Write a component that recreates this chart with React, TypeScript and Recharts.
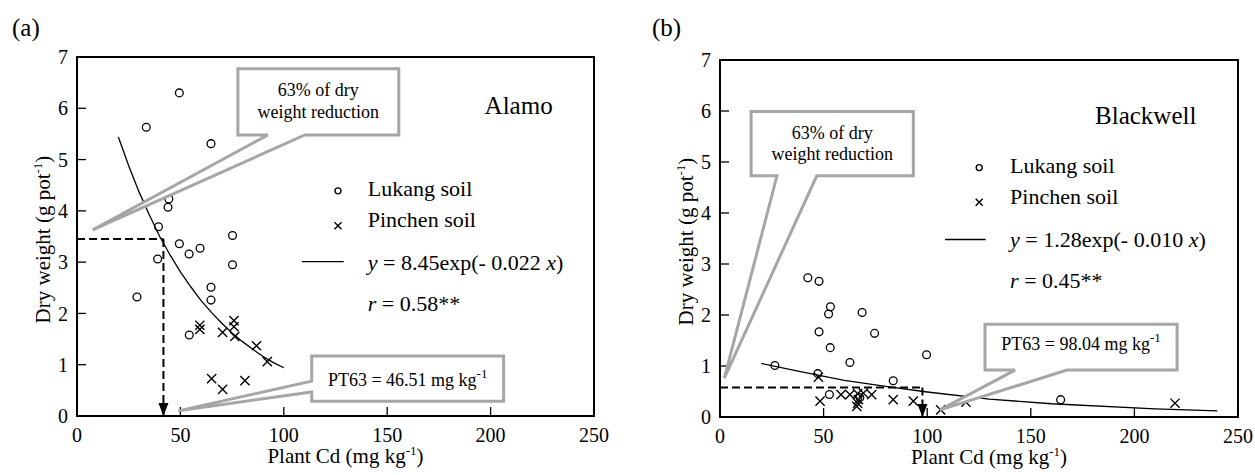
import React from 'react';
import { ScatterChart, Scatter, XAxis, YAxis, ReferenceLine, ReferenceDot, ReferenceArea } from 'recharts';

const SERIF = '"Liberation Serif", "Times New Roman", serif';
const GRAY = '#a6a6a6';

const xTicks = [0, 50, 100, 150, 200, 250];
const yTicks = [0, 1, 2, 3, 4, 5, 6, 7];

// (a) Alamo
const alamoLukangCd = [33.5, 49.5, 64.8, 44.4, 44.0, 39.4, 39.0, 29.0, 49.5, 54.2, 59.5, 75.2, 75.2, 64.8, 64.8, 54.3];
const alamoLukangDw = [5.63, 6.30, 5.31, 4.23, 4.07, 3.69, 3.06, 2.32, 3.36, 3.16, 3.27, 3.52, 2.95, 2.51, 2.26, 1.58];
const alamoPinchenCd = [59.4, 59.4, 70.4, 75.9, 75.9, 76.3, 86.8, 92.0, 65.1, 70.4, 81.2];
const alamoPinchenDw = [1.77, 1.69, 1.63, 1.86, 1.74, 1.55, 1.37, 1.06, 0.73, 0.52, 0.69];
const alamoFitCd = [20, 25, 30, 35, 40, 45, 50, 55, 60, 65, 70, 75, 80, 85, 90, 95, 100];
const alamoFitDw = [5.44, 4.88, 4.37, 3.92, 3.5, 3.14, 2.81, 2.52, 2.25, 2.02, 1.81, 1.62, 1.45, 1.3, 1.16, 1.04, 0.94];

// (b) Blackwell
const blackLukangCd = [26.5, 42.4, 47.8, 53.3, 52.4, 47.8, 53.2, 68.6, 74.6, 62.7, 99.7, 47.2, 83.6, 52.8, 67.5, 164.4];
const blackLukangDw = [1.01, 2.73, 2.66, 2.16, 2.02, 1.67, 1.36, 2.05, 1.64, 1.07, 1.22, 0.85, 0.71, 0.44, 0.38, 0.34];
const blackPinchenCd = [47.5, 48.3, 58.4, 62.7, 66.4, 69.2, 73.2, 66.8, 66.4, 66.0, 83.6, 93.3, 106.5, 118.7, 219.6];
const blackPinchenDw = [0.78, 0.31, 0.44, 0.44, 0.46, 0.47, 0.44, 0.34, 0.27, 0.21, 0.34, 0.31, 0.14, 0.29, 0.27];
const blackFitCd = [20, 40, 60, 80, 100, 130, 160, 210, 240];
const blackFitDw = [1.05, 0.88, 0.72, 0.6, 0.49, 0.35, 0.26, 0.16, 0.12];

const toPoints = (xs: number[], ys: number[]) => xs.map((x, i) => ({ x, y: ys[i] }));

const Ring = (p: any) => (
  <circle cx={p.cx} cy={p.cy} r={3.9} fill="none" stroke="#000" strokeWidth={1.3} />
);
const Cross = (p: any) => {
  const s = 4.6;
  return (
    <path
      d={`M${p.cx - s},${p.cy - s}L${p.cx + s},${p.cy + s}M${p.cx - s},${p.cy + s}L${p.cx + s},${p.cy - s}`}
      stroke="#000"
      strokeWidth={1.4}
      fill="none"
    />
  );
};
// inward tick marks
const UpTick = (p: any) => <path d={`M${p.cx},${p.cy - 1}L${p.cx},${p.cy - 9}`} stroke="#000" strokeWidth={1.3} fill="none" />;
const RightTick = (p: any) => <path d={`M${p.cx + 1},${p.cy}L${p.cx + 9},${p.cy}`} stroke="#000" strokeWidth={1.3} fill="none" />;
const NoDot = () => <g />;

// superscript "-1", optionally followed by text back on the baseline
const sup = (t: string, after?: string) => (
  <>
    <tspan dy={-8} fontSize={13}>{t}</tspan>
    {after ? <tspan dy={8}>{after}</tspan> : null}
  </>
);

// callout: box corners first (TL, TR, BR), then the wedge; text centred in the box
const callout = (lines: React.ReactNode[], dy: number[]) => (props: any) => {
  const pts = (props.points || []) as { x: number; y: number }[];
  if (pts.length < 3) return <g />;
  const d = pts.map((p, i) => `${i === 0 ? 'M' : 'L'}${p.x},${p.y}`).join(' ') + ' Z';
  const cx = (pts[0].x + pts[2].x) / 2;
  const cy = (pts[0].y + pts[2].y) / 2;
  return (
    <g>
      <path d={d} fill="#fff" stroke={GRAY} strokeWidth={3} />
      {lines.map((ln, i) => (
        <text key={i} x={cx} y={cy + dy[i]} textAnchor="middle" fontFamily={SERIF} fontSize={18} fill="#000">
          {ln}
        </text>
      ))}
    </g>
  );
};

const note = (key: string, x: number, y: number, content: React.ReactNode, size: number) => (
  <ReferenceDot
    key={key}
    x={x}
    y={y}
    r={0}
    shape={(d: any) => (
      <text x={d.cx} y={d.cy} fontFamily={SERIF} fontSize={size} fill="#000">
        {content}
      </text>
    )}
  />
);

const xLabel = (props: any) => {
  const vb = props.viewBox || {};
  return (
    <text x={vb.x + vb.width / 2 + 10} y={vb.y + 47} textAnchor="middle" fontFamily={SERIF} fontSize={21} fill="#000">
      Plant Cd (mg kg{sup('-1', ')')}
    </text>
  );
};

const yLabel = (props: any) => {
  const vb = props.viewBox || {};
  const x = vb.x + vb.width - 27;
  const y = vb.y + vb.height / 2 + 3;
  return (
    <text x={x} y={y} transform={`rotate(-90 ${x} ${y})`} textAnchor="middle" fontFamily={SERIF} fontSize={21} fill="#000">
      Dry weight (g pot{sup('-1', ')')}
    </text>
  );
};

interface PanelProps {
  width: number;
  margin: { top: number; right: number; bottom: number; left: number };
  lukang: { x: number; y: number }[];
  pinchen: { x: number; y: number }[];
  fit: { x: number; y: number }[];
  cutX: number;
  cutY: number;
  cultivar: string;
  cultivarAt: [number, number];
  legendMarkX: number;
  legendTextX: number;
  legendRows: number[];
  legendLine: [number, number, number];
  equation: React.ReactNode;
  rText: React.ReactNode;
  topNote: { x: number; y: number }[];
  topDy: number[];
  ptNote: { x: number; y: number }[];
  ptText: React.ReactNode;
  ptDy: number;
}

function DryWeightPanel(p: PanelProps) {
  return (
    <ScatterChart width={p.width} height={475} margin={p.margin}>
      <XAxis
        type="number"
        dataKey="x"
        domain={[0, 250]}
        ticks={xTicks}
        interval={0}
        height={40}
        tickSize={-8}
        tickMargin={20}
        axisLine={{ stroke: '#000', strokeWidth: 2 }}
        tickLine={false}
        tick={{ fill: '#000', fontSize: 20, fontFamily: SERIF }}
        label={xLabel}
      />
      <YAxis
        type="number"
        dataKey="y"
        domain={[0, 7]}
        ticks={yTicks}
        interval={0}
        width={45}
        tickSize={-8}
        tickMargin={17}
        axisLine={{ stroke: '#000', strokeWidth: 2 }}
        tickLine={false}
        tick={{ fill: '#000', fontSize: 20, fontFamily: SERIF }}
        label={yLabel}
      />
      <ReferenceArea x1={0} x2={250} y1={0} y2={7} fill="none" stroke="#000" strokeWidth={2} />

      <ReferenceDot x={50} y={0} r={0} shape={UpTick} />
      <ReferenceDot x={100} y={0} r={0} shape={UpTick} />
      <ReferenceDot x={150} y={0} r={0} shape={UpTick} />
      <ReferenceDot x={200} y={0} r={0} shape={UpTick} />
      <ReferenceDot x={0} y={1} r={0} shape={RightTick} />
      <ReferenceDot x={0} y={2} r={0} shape={RightTick} />
      <ReferenceDot x={0} y={3} r={0} shape={RightTick} />
      <ReferenceDot x={0} y={4} r={0} shape={RightTick} />
      <ReferenceDot x={0} y={5} r={0} shape={RightTick} />
      <ReferenceDot x={0} y={6} r={0} shape={RightTick} />

      <ReferenceLine
        segment={[{ x: 0, y: p.cutY }, { x: p.cutX, y: p.cutY }]}
        stroke="#000"
        strokeWidth={2}
        strokeDasharray="8 4"
      />
      <ReferenceLine
        segment={[{ x: p.cutX, y: p.cutY }, { x: p.cutX, y: 0 }]}
        stroke="#000"
        strokeWidth={2}
        strokeDasharray="8 4"
      />
      <ReferenceDot
        x={p.cutX}
        y={0}
        r={0}
        shape={(d: any) => <path d={`M${d.cx - 5},${d.cy - 13}L${d.cx + 5},${d.cy - 13}L${d.cx},${d.cy}Z`} fill="#000" />}
      />

      <Scatter data={p.fit} shape={NoDot} line={{ stroke: '#000', strokeWidth: 1.3 }} isAnimationActive={false} />
      <Scatter data={p.lukang} shape={Ring} isAnimationActive={false} />
      <Scatter data={p.pinchen} shape={Cross} isAnimationActive={false} />

      <Scatter
        data={p.topNote}
        shape={NoDot}
        line={callout(['63% of dry', 'weight reduction'], p.topDy)}
        isAnimationActive={false}
      />
      <Scatter data={p.ptNote} shape={NoDot} line={callout([p.ptText], [p.ptDy])} isAnimationActive={false} />

      {note('cultivar', p.cultivarAt[0], p.cultivarAt[1], p.cultivar, 25)}
      <ReferenceDot
        x={p.legendMarkX}
        y={p.legendRows[0] + 0.1}
        r={0}
        shape={(d: any) => <circle cx={d.cx} cy={d.cy} r={3} fill="none" stroke="#000" strokeWidth={1.4} />}
      />
      <ReferenceDot
        x={p.legendMarkX}
        y={p.legendRows[1] + 0.03}
        r={0}
        shape={(d: any) => (
          <path
            d={`M${d.cx - 3.5},${d.cy - 3.5}L${d.cx + 3.5},${d.cy + 3.5}M${d.cx - 3.5},${d.cy + 3.5}L${d.cx + 3.5},${d.cy - 3.5}`}
            stroke="#000"
            strokeWidth={1.4}
          />
        )}
      />
      <ReferenceLine
        segment={[{ x: p.legendLine[0], y: p.legendLine[2] }, { x: p.legendLine[1], y: p.legendLine[2] }]}
        stroke="#000"
        strokeWidth={1.3}
      />
      {note('lukang', p.legendTextX, p.legendRows[0], 'Lukang soil', 22)}
      {note('pinchen', p.legendTextX, p.legendRows[1], 'Pinchen soil', 22)}
      {note('eq', p.legendTextX, p.legendRows[2], p.equation, 22)}
      {note('r', p.legendTextX, p.legendRows[3], p.rText, 22)}
    </ScatterChart>
  );
}

const it = (t: string) => <tspan fontStyle="italic">{t}</tspan>;

export default function App() {
  return (
    <div style={{ position: 'absolute', left: 0, top: 0, width: 1255, height: 475, background: '#fff', fontFamily: SERIF }}>
      <div style={{ position: 'absolute', left: 12, top: 15, fontSize: 25, lineHeight: '25px' }}>(a)</div>
      <div style={{ position: 'absolute', left: 652, top: 15, fontSize: 25, lineHeight: '25px' }}>(b)</div>
      <div style={{ position: 'absolute', left: 0, top: 0 }}>
        <DryWeightPanel
          width={627}
          margin={{ top: 57, right: 33, bottom: 19, left: 32 }}
          lukang={toPoints(alamoLukangCd, alamoLukangDw)}
          pinchen={toPoints(alamoPinchenCd, alamoPinchenDw)}
          fit={toPoints(alamoFitCd, alamoFitDw)}
          cutX={41.8}
          cutY={3.45}
          cultivar="Alamo"
          cultivarAt={[197.1, 5.89]}
          legendMarkX={126.2}
          legendTextX={140.6}
          legendRows={[4.29, 3.68, 2.85, 2.05]}
          legendLine={[108.7, 129.0, 3.01]}
          equation={<>{it('y')} = 8.45exp(- 0.022 {it('x')})</>}
          rText={<>{it('r')} = 0.58**</>}
          topNote={toPoints([77.8, 155.6, 155.6, 110.2, 7.6, 92.3, 77.8], [6.77, 6.77, 5.48, 5.48, 3.63, 5.48, 5.48])}
          topDy={[-6, 16]}
          ptNote={toPoints([113.5, 206.3, 206.3, 113.5, 113.5, 49.0, 113.5], [1.17, 1.17, 0.29, 0.29, 0.47, 0.1, 0.68])}
          ptText={<>PT63 = 46.51 mg kg{sup('-1')}</>}
          ptDy={7}
        />
      </div>
      <div style={{ position: 'absolute', left: 627, top: 0 }}>
        <DryWeightPanel
          width={628}
          margin={{ top: 60, right: 17, bottom: 18, left: 48 }}
          lukang={toPoints(blackLukangCd, blackLukangDw)}
          pinchen={toPoints(blackPinchenCd, blackPinchenDw)}
          fit={toPoints(blackFitCd, blackFitDw)}
          cutX={97.7}
          cutY={0.58}
          cultivar="Blackwell"
          cultivarAt={[181.0, 5.75]}
          legendMarkX={125.1}
          legendTextX={140.0}
          legendRows={[4.79, 4.18, 3.33, 2.52]}
          legendLine={[108.6, 128.2, 3.48]}
          equation={<>{it('y')} = 1.28exp(- 0.010 {it('x')})</>}
          rText={<>{it('r')} = 0.45**</>}
          topNote={toPoints([15.0, 93.3, 93.3, 46.7, 2.1, 27.5, 15.0], [5.99, 5.99, 4.73, 4.73, 0.76, 4.73, 4.73])}
          topDy={[-5, 16]}
          ptNote={toPoints([127.9, 220.6, 220.6, 167.5, 106.2, 142.4, 127.9], [1.82, 1.82, 0.92, 0.92, 0.14, 0.92, 0.92])}
          ptText={<>PT63 = 98.04 mg kg{sup('-1')}</>}
          ptDy={3}
        />
      </div>
    </div>
  );
}
